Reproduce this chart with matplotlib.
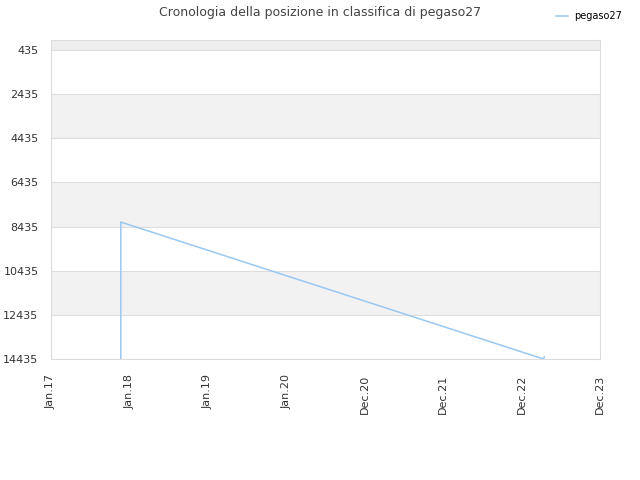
import matplotlib
matplotlib.use('Agg')
import matplotlib.pyplot as plt

# x positions in "tick units" (one unit between consecutive labels)
tick_labels = ['Jan.17', 'Jan.18', 'Jan.19', 'Jan.20', 'Dec.20', 'Dec.21', 'Dec.22', 'Dec.23']
x_vals = [0.89, 0.89, 6.28, 6.29]
rank = [14435, 8230, 14435, 14340]
y_ticks = [435, 2435, 4435, 6435, 8435, 10435, 12435, 14435]

fig = plt.figure(figsize=(6.4, 4.8), dpi=100)
ax = fig.add_axes([51 / 640, 1 - 359 / 480, 549 / 640, 319 / 480])

ax.axhspan(-20, 435, color='#eeeeee', zorder=0, lw=0)
for lo in [2435, 6435, 10435]:
    ax.axhspan(lo, lo + 2000, color='#f2f2f2', zorder=0, lw=0)

ax.plot(x_vals, rank, color='#99c8f2', lw=1.1, label='pegaso27', zorder=3)

ax.set_xlim(0, 7)
ax.set_ylim(14435, -20)
ax.set_xticks(range(len(tick_labels)))
ax.set_xticklabels(tick_labels, rotation=90)
ax.set_yticks(y_ticks)
ax.set_yticklabels([str(v) for v in y_ticks])
ax.grid(axis='y', color='#dddddd', lw=0.8, zorder=1)
ax.set_axisbelow(True)
ax.tick_params(length=0, labelsize=8, colors='#333333')
ax.tick_params(axis='x', pad=11)
ax.tick_params(axis='y', pad=9)
for s in ax.spines.values():
    s.set_color('#dddddd')

fig.suptitle('Cronologia della posizione in classifica di pegaso27', x=0.5, y=0.988,
             fontsize=9, color='#444444')
fig.legend(loc='upper right', bbox_to_anchor=(0.985, 0.995), frameon=False,
           fontsize=7, handlelength=1.2, handletextpad=0.6)

fig.savefig('out.png', dpi=100)
